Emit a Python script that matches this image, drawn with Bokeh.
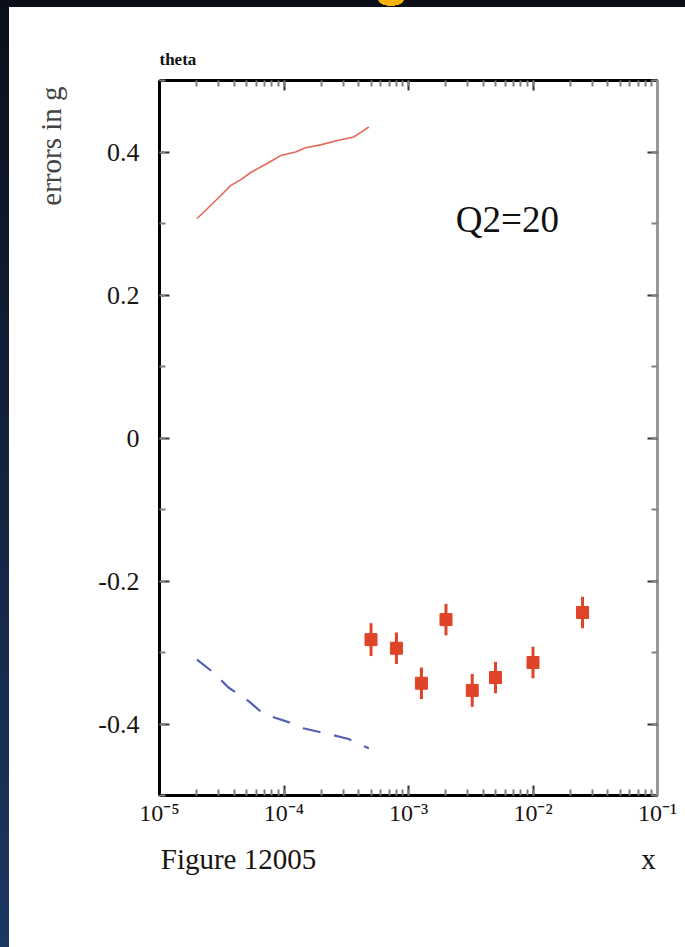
from bokeh.plotting import figure
from bokeh.models import (LogAxis, LinearAxis, FixedTicker, Label, Title, Range1d,
                          LinearScale)
from bokeh.embed import file_html
from bokeh.resources import INLINE

# ---------------- data ----------------
upper_x = [2.0e-5, 2.43e-5, 2.98e-5, 3.72e-5, 4.47e-5, 5.48e-5, 7.5e-5, 9.4e-5,
           1.24e-4, 1.49e-4, 1.96e-4, 2.69e-4, 3.62e-4, 4.35e-4, 4.8e-4]
upper_y = [0.307, 0.321, 0.336, 0.353, 0.361, 0.372, 0.385, 0.395,
           0.400, 0.406, 0.410, 0.416, 0.421, 0.430, 0.435]

lower_x = [2.0e-5, 2.71e-5, 3.58e-5, 5.2e-5, 6.85e-5, 1.07e-4, 1.43e-4,
           2.27e-4, 3.3e-4, 4.8e-4]
lower_y = [-0.310, -0.328, -0.349, -0.368, -0.386, -0.397, -0.406,
           -0.414, -0.421, -0.434]

pts_x = [5.0e-4, 8.0e-4, 1.27e-3, 2.0e-3, 3.25e-3, 5.0e-3, 1.0e-2, 2.5e-2]
pts_y = [-0.282, -0.294, -0.343, -0.254, -0.353, -0.335, -0.314, -0.244]
pts_err = [0.023, 0.022, 0.022, 0.022, 0.023, 0.022, 0.022, 0.022]

x_ticks = [1e-5, 1e-4, 1e-3, 1e-2, 1e-1]
x_tick_labels = ["10\u207b\u2075", "10\u207b\u2074", "10\u207b\u00b3", "10\u207b\u00b2", "10\u207b\u00b9"]
y_ticks = [-0.4, -0.2, 0.0, 0.2, 0.4]
y_tick_labels = ["-0.4", "-0.2", "0", "0.2", "0.4"]
y_minor = [-0.5, -0.4, -0.3, -0.2, -0.1, 0.0, 0.1, 0.2, 0.3, 0.4, 0.5]

FONT = "Liberation Serif"
INK = "#1a1410"

# ---------------- figure ----------------
p = figure(x_axis_type="log", x_range=(1e-5, 1e-1), y_range=(-0.5, 0.5),
           frame_width=498, frame_height=715,
           min_border_left=159, min_border_right=28,
           min_border_top=80, min_border_bottom=152,
           output_backend="svg", toolbar_location=None,
           background_fill_color="white", border_fill_color=None,
           outline_line_color=None)
p.grid.visible = False

x_minor = [m * d for d in x_ticks[:-1] for m in range(1, 10)] + [x_ticks[-1]]
xt = FixedTicker(ticks=x_ticks, minor_ticks=x_minor)
yt = FixedTicker(ticks=y_ticks, minor_ticks=y_minor)


def style(ax, ticker, line_color, labels=None, size="22px"):
    ax.ticker = ticker
    ax.major_tick_in = 10
    ax.major_tick_out = 0
    ax.minor_tick_in = 6
    ax.minor_tick_out = 0
    ax.major_tick_line_color = "#333333"
    ax.minor_tick_line_color = "#808080"
    ax.major_tick_line_width = 2
    ax.minor_tick_line_width = 2
    ax.axis_line_color = line_color
    ax.axis_line_width = 3
    if labels is None:
        ax.major_label_text_font_size = "2px"
        ax.major_label_text_color = None
        ax.major_label_standoff = 0
    else:
        ax.major_label_overrides = labels
        ax.major_label_text_font = FONT
        ax.major_label_text_font_size = size
        ax.major_label_text_color = INK


style(p.xaxis[0], xt, "black", dict(zip(x_ticks, x_tick_labels)), "24px")
p.xaxis[0].major_label_standoff = 4
style(p.yaxis[0], yt, "black", dict(zip(y_ticks, y_tick_labels)), "26px")
p.yaxis[0].major_label_standoff = 20

top = LogAxis()
style(top, xt, "black")
p.add_layout(top, "above")
right = LinearAxis()
style(right, yt, "#999999")
p.add_layout(right, "right")

# caption row under the x axis: "Figure 12005" on the left, axis title "x" on the right
caption_pos = [79, 489]
caption_text = ["Figure 12005", "x"]
p.extra_x_ranges = {"caption": Range1d(0, 498)}
p.extra_x_scales = {"caption": LinearScale()}
cap = LinearAxis(x_range_name="caption",
                 ticker=FixedTicker(ticks=caption_pos, minor_ticks=[]),
                 major_label_overrides=dict(zip(caption_pos, caption_text)),
                 axis_line_color=None, major_tick_line_color=None,
                 minor_tick_line_color=None, major_tick_in=0, major_tick_out=0,
                 major_label_standoff=14, major_label_text_font=FONT,
                 major_label_text_font_size="29px", major_label_text_color=INK)
p.add_layout(cap, "below")

# ---------------- curves and points ----------------
p.line(upper_x, upper_y, line_color="#e05848", line_width=1.6, line_alpha=0.9)
p.line(lower_x, lower_y, line_color="#5560b4", line_width=2.2, line_dash="18 14")

y_lo = [y - e for y, e in zip(pts_y, pts_err)]
y_hi = [y + e for y, e in zip(pts_y, pts_err)]
p.segment(x0=pts_x, y0=y_lo, x1=pts_x, y1=y_hi, line_color="#e04428", line_width=3)
p.scatter(pts_x, pts_y, marker="square", size=12, fill_color="#e04428",
          line_color="#e04428")

# ---------------- texts ----------------
p.add_layout(Label(x=2.4e-3, y=0.305, text="Q2=20", text_font=FONT,
                   text_font_size="37px", text_baseline="middle",
                   text_color="#111111"))

p.title.text = "theta"
p.title.align = "left"
p.title.text_font = FONT
p.title.text_font_size = "17px"
p.title.text_font_style = "bold"
p.title.text_color = "#111111"
p.title.standoff = 24

ylab = Title(text="errors in g", align="right", offset=6, text_font=FONT,
             text_font_size="29px", text_font_style="normal",
             text_color="#444444", standoff=58)
p.add_layout(ylab, "left")

html = file_html(p, INLINE, title="theta")
css = ('<style>body{background:'
       'radial-gradient(ellipse 13px 6px at 391px 0px, #f5b000 95%, transparent 100%) no-repeat,'
       'linear-gradient(#0b0f1a,#0b0f1a) top left / 100% 7px no-repeat,'
       'linear-gradient(to bottom,#0b0f1a,#1b3762) top left / 9px 100% no-repeat,'
       '#ffffff !important;}</style>')
html = html.replace("</head>", css + "</head>", 1)
open("out.html", "w").write(html)
